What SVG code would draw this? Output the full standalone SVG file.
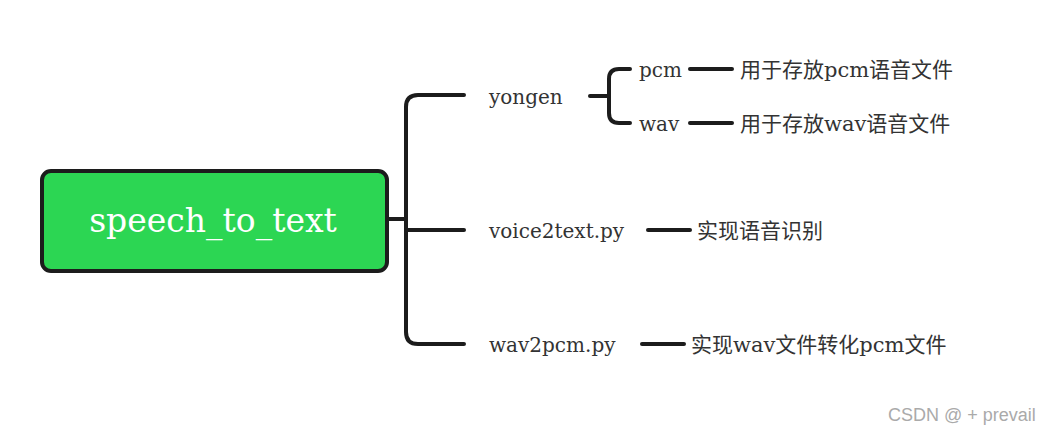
<svg xmlns="http://www.w3.org/2000/svg" width="1052" height="434" viewBox="0 0 1052 434">
<style>
.ln{fill:none;stroke:#1c1c1c;stroke-width:4;stroke-linecap:round;stroke-linejoin:round}
.t{font-family:"DejaVu Serif","Liberation Serif","Noto Sans CJK SC",serif;font-size:20px;fill:#333}
.c{font-family:"DejaVu Serif","Noto Sans CJK SC",serif;font-size:21px;fill:#333}
</style>
<rect width="1052" height="434" fill="#fff"/>
<g id="connectors">
<path class="ln" d="M387,219 H406"/>
<path class="ln" d="M464,95 H418 Q406,95 406,107 V332 Q406,344 418,344 H464"/>
<path class="ln" d="M406,230 H464"/>
<path class="ln" d="M590,96 H609"/>
<path class="ln" d="M630,69 H619 Q609,69 609,79 V113 Q609,123 619,123 H630"/>
<path class="ln" d="M690,69 H732"/>
<path class="ln" d="M690,123 H732"/>
<path class="ln" d="M648,230 H690"/>
<path class="ln" d="M642,344 H684"/>
</g>
<g id="root">
<rect x="42" y="171" width="345" height="100" rx="9" fill="#2cd653" stroke="#1c1c1c" stroke-width="4"/>
<text x="213" y="232" text-anchor="middle" font-family="DejaVu Serif,Liberation Serif,serif" font-size="33" fill="#fff">speech_to_text</text>
</g>
<g id="yongen"><text class="t" x="489" y="104">yongen</text></g>
<g id="pcm"><text class="t" x="639" y="77">pcm</text></g>
<g id="wav"><text class="t" x="639" y="131">wav</text></g>
<g id="pcm-desc"><text class="c" x="740" y="77">用于存放pcm语音文件</text></g>
<g id="wav-desc"><text class="c" x="740" y="131">用于存放wav语音文件</text></g>
<g id="voice2text"><text class="t" x="489" y="238">voice2text.py</text></g>
<g id="voice2text-desc"><text class="c" x="697" y="238">实现语音识别</text></g>
<g id="wav2pcm"><text class="t" x="489" y="352">wav2pcm.py</text></g>
<g id="wav2pcm-desc"><text class="c" x="691" y="352">实现wav文件转化pcm文件</text></g>
<text x="888" y="421" font-family="Liberation Sans,Arial,sans-serif" font-size="18" fill="#aaa">CSDN @ + prevail</text>
</svg>
